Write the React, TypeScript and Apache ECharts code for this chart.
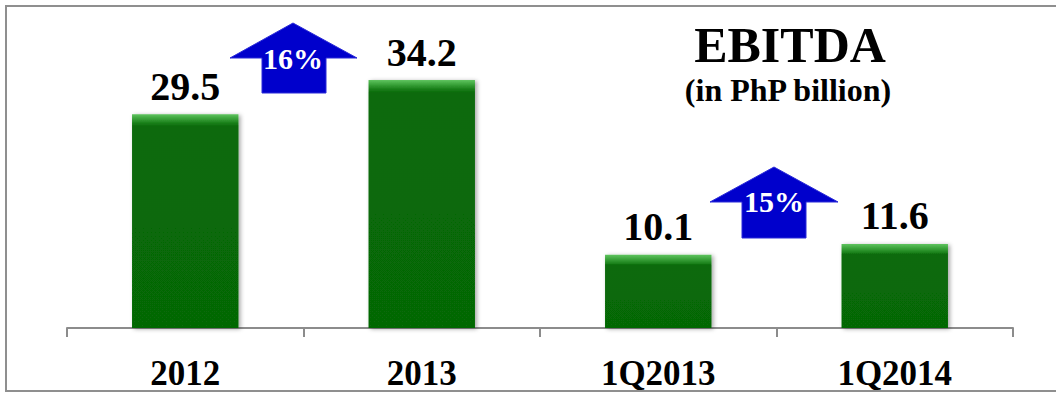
import React, { useEffect, useRef } from "react";
import * as echarts from "echarts";

const categories = ["2012", "2013", "1Q2013", "1Q2014"];
const ebitda = [29.5, 34.2, 10.1, 11.6];
const growthLabels = ["16%", "15%"];
const titleText = "EBITDA";
const subtitleText = "(in PhP billion)";

const SERIF = "'Liberation Serif', 'DejaVu Serif', serif";

export default function App() {
  const ref = useRef<HTMLDivElement>(null);
  useEffect(() => {
    if (!ref.current) return;
    const chart = echarts.init(ref.current, null, { renderer: "svg" });
    const yMax = 40;
    const plotH = 290;
    const pxPerUnit = plotH / yMax;
    const barData = ebitda.map((v) => {
      const s = Math.min(0.5, 9 / (v * pxPerUnit));
      return {
        value: v,
        itemStyle: {
          color: new echarts.graphic.LinearGradient(0, 0, 0, 1, [
            { offset: 0, color: "#5fc45f" },
            { offset: s * 0.5, color: "#3aa23a" },
            { offset: s, color: "#1a7f1a" },
            { offset: Math.min(0.98, s + 0.015), color: "#086a08" },
            { offset: 1, color: "#066806" },
          ]),
        },
      };
    });
    const arrow = (pts: number[][]) => ({
      type: "polygon",
      shape: { points: pts },
      style: { fill: "#0000cc", stroke: "#2a2ad8", lineWidth: 1 },
      z: 10,
    });
    const pctText = (x: number, y: number, t: string) => ({
      type: "text",
      x,
      y,
      z: 11,
      style: {
        text: t,
        fontSize: 30,
        fontWeight: "bold",
        fontFamily: SERIF,
        fill: "#ffffff",
        align: "center",
        verticalAlign: "middle",
      },
    });
    chart.setOption({
      animation: false,
      backgroundColor: "#ffffff",
      grid: { left: 67, right: 43, top: 38, bottom: 65, containLabel: false },
      xAxis: {
        type: "category",
        data: categories,
        axisLine: { lineStyle: { color: "#8c8c8c", width: 2 } },
        axisTick: { show: true, length: 9, interval: 0, lineStyle: { color: "#8c8c8c", width: 2 } },
        axisLabel: {
          interval: 0,
          margin: 28,
          fontSize: 35,
          fontWeight: "bold",
          fontFamily: SERIF,
          color: "#000",
        },
      },
      yAxis: { type: "value", min: 0, max: yMax, show: false, splitLine: { show: false } },
      series: [
        {
          type: "bar",
          data: barData,
          barWidth: "45%",
          itemStyle: {
            shadowBlur: 4,
            shadowColor: "rgba(0,0,0,0.35)",
            shadowOffsetX: 2,
            shadowOffsetY: 1,
          },
          label: {
            show: true,
            position: "top",
            distance: 8,
            fontSize: 40,
            fontWeight: "bold",
            fontFamily: SERIF,
            color: "#000",
          },
        },
      ],
      graphic: [
        {
          type: "rect",
          shape: { x: 6, y: 6, width: 1070, height: 385 },
          style: { fill: "none", stroke: "#8f8f8f", lineWidth: 2 },
          silent: true,
        },
        {
          type: "text",
          x: 790,
          y: 45,
          style: {
            text: titleText,
            fontSize: 50,
            fontWeight: "bold",
            fontFamily: SERIF,
            fill: "#000",
            align: "center",
            verticalAlign: "middle",
          },
        },
        {
          type: "text",
          x: 788,
          y: 90,
          style: {
            text: subtitleText,
            fontSize: 32,
            fontWeight: "bold",
            fontFamily: SERIF,
            fill: "#000",
            align: "center",
            verticalAlign: "middle",
          },
        },
        arrow([
          [293, 23],
          [357, 58],
          [326, 58],
          [326, 93],
          [262, 93],
          [262, 58],
          [230, 58],
        ]),
        arrow([
          [774, 167],
          [838, 202],
          [806, 202],
          [806, 238],
          [742, 238],
          [742, 202],
          [710, 202],
        ]),
        pctText(293, 58, growthLabels[0]),
        pctText(774, 201, growthLabels[1]),
      ],
    });
    return () => chart.dispose();
  }, []);
  return (
    <div
      ref={ref}
      style={{ position: "fixed", left: 0, top: 0, width: 1056, height: 393, background: "#fff" }}
    />
  );
}
